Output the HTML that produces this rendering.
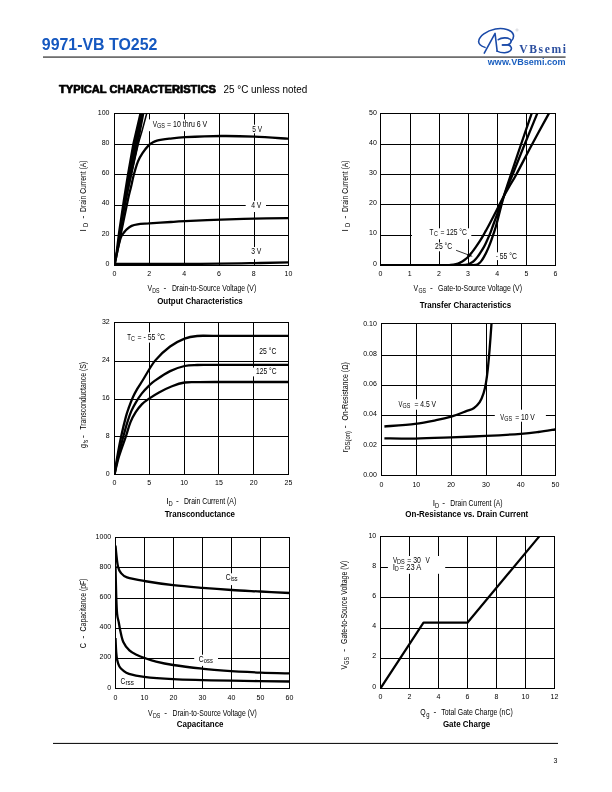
<!DOCTYPE html>
<html><head><meta charset="utf-8"><title>9971-VB TO252</title>
<style>html,body{margin:0;padding:0;background:#fff}svg{display:block;font-family:"Liberation Sans",sans-serif;will-change:transform}text{white-space:pre}</style></head><body>
<svg width="612" height="792" viewBox="0 0 612 792">
<rect width="612" height="792" fill="#fff"/>
<text x="41.8" y="50" font-size="16" font-weight="bold" textLength="115.6" lengthAdjust="spacingAndGlyphs" fill="#1558c0">9971-VB TO252</text>
<rect x="43" y="56.3" width="522.6" height="1.6" fill="#606060"/>
<g transform="translate(476 24) scale(0.07194)" fill="none" stroke="#1a4aa8" stroke-width="22" stroke-linecap="round" stroke-linejoin="round">
<path d="M125 325 C70 305 30 275 38 235 C48 170 140 95 270 70 C380 50 500 80 520 150 C528 195 505 225 488 240"/>
<path d="M310 218 C350 190 440 180 482 218 C502 245 475 280 440 289 L368 291"/>
<path d="M368 291 L445 290 C490 300 505 340 480 370 C450 405 360 410 292 377"/>
<path d="M115 405 L265 130 L294 378"/>
</g>
<circle cx="517" cy="30" r="1.1" fill="none" stroke="#b4b8c0" stroke-width="0.5"/>

<text x="519.3" y="52.9" font-size="11.6" font-weight="bold" textLength="46.6" lengthAdjust="spacing" fill="#2c4f9f" font-family='"Liberation Serif", serif'>VBsemi</text>
<text x="487.8" y="64.8" font-size="9" font-weight="bold" textLength="77.8" lengthAdjust="spacingAndGlyphs" fill="#1a5fc0">www.VBsemi.com</text>
<text x="59" y="93.2" font-size="10.4" font-weight="bold" textLength="157" lengthAdjust="spacingAndGlyphs" stroke="#000" stroke-width="0.7" stroke-linejoin="round">TYPICAL CHARACTERISTICS</text>
<text x="223.4" y="93.4" font-size="10" textLength="84" lengthAdjust="spacingAndGlyphs">25 °C unless noted</text>
<g id="c1">
<clipPath id="clipc1"><rect x="114" y="113" width="175" height="153"/></clipPath>
<path d="M149.5 113.5 V265.5M184.5 113.5 V265.5M219.5 113.5 V265.5M254.5 113.5 V265.5M114.5 144.5 H288.5M114.5 174.5 H288.5M114.5 205.5 H288.5M114.5 235.5 H288.5" stroke="#000" stroke-width="1" fill="none"/>
<rect x="148" y="119.4" width="61" height="11.8" fill="#fff"/>
<rect x="250" y="124.7" width="14" height="8.6" fill="#fff"/>
<rect x="245.7" y="200.8" width="20.3" height="11.2" fill="#fff"/>
<rect x="250" y="247" width="14" height="12.2" fill="#fff"/>
<rect x="114.5" y="113.5" width="174" height="152" fill="none" stroke="#000" stroke-width="1"/>
<g clip-path="url(#clipc1)" fill="none" stroke="#000" stroke-linejoin="round">
<path d="M114.5 265.3 C115.62 259.75 118.97 242.92 121.2 232 C123.43 221.08 126.27 207.3 127.9 199.8 C129.53 192.3 130.02 191.17 131 187 C131.98 182.83 132.65 179.03 133.8 174.8 C134.95 170.57 136.45 165.2 137.9 161.6 C139.35 158 140.72 155.9 142.5 153.2 C144.28 150.5 146.85 147.22 148.6 145.4 C150.35 143.58 151.6 143.1 153 142.3 C154.4 141.5 155.5 141.05 157 140.6 C158.5 140.15 159.95 139.92 162 139.6 C164.05 139.28 165.43 139.1 169.3 138.7 C173.17 138.3 176.55 137.65 185.2 137.2 C193.85 136.75 209.68 136.1 221.2 136 C232.72 135.9 243.27 136.15 254.3 136.6 C265.33 137.05 281.45 138.32 287.4 138.7 C293.35 139.08 289.57 138.87 290 138.9" stroke-width="2.3"/>
<path d="M114.5 265.3 C115.02 262.75 116.65 254.3 117.6 250 C118.55 245.7 119.55 241.83 120.2 239.5 C120.85 237.17 120.9 237.13 121.5 236 C122.1 234.87 122.93 233.82 123.8 232.7 C124.67 231.58 125.4 230.43 126.7 229.3 C128 228.17 129.8 226.73 131.6 225.9 C133.4 225.07 134.55 224.72 137.5 224.3 C140.45 223.88 143.75 223.78 149.3 223.4 C154.85 223.02 164.82 222.37 170.8 222 C176.78 221.63 176.8 221.6 185.2 221.2 C193.6 220.8 209.68 220.03 221.2 219.6 C232.72 219.17 243.27 218.83 254.3 218.6 C265.33 218.37 281.45 218.27 287.4 218.2 C293.35 218.13 289.57 218.2 290 218.2" stroke-width="2.3"/>
<path d="M114.5 263.9 C128.75 263.88 177.42 263.92 200 263.8 C222.58 263.68 235 263.43 250 263.2 C265 262.97 283.33 262.53 290 262.4" stroke-width="2.3"/>
<path d="M114.5 265.3 C115.42 259.75 118.08 242.92 120 232 C121.92 221.08 124.1 209.33 126 199.8 C127.9 190.27 129.35 184.08 131.4 174.8 C133.45 165.52 136.55 151.32 138.3 144.1 C140.05 136.88 140.5 136.6 141.9 131.5 C143.3 126.4 145.7 117.25 146.7 113.5 C147.7 109.75 147.7 109.75 147.9 109" stroke-width="1.5"/>
</g>
<path clip-path="url(#clipc1)" d="M113.9 265.3 L118.0 232 L122.8 199.8 L126.8 174.8 L132.2 144.1 L139.3 113.5 L140.4 109 L145.3 109 L144.4 113.5 L138.6 144.1 L132.0 174.8 L126.9 199.8 L120.6 232 L115.3 265.3 Z" fill="#000"/>
<text x="114.5" y="276" font-size="7" text-anchor="middle">0</text>
<text x="149.3" y="276" font-size="7" text-anchor="middle">2</text>
<text x="184.1" y="276" font-size="7" text-anchor="middle">4</text>
<text x="218.9" y="276" font-size="7" text-anchor="middle">6</text>
<text x="253.7" y="276" font-size="7" text-anchor="middle">8</text>
<text x="288.5" y="276" font-size="7" text-anchor="middle">10</text>
<text x="109.5" y="115" font-size="7" text-anchor="end">100</text>
<text x="109.5" y="145.14" font-size="7" text-anchor="end">80</text>
<text x="109.5" y="175.28" font-size="7" text-anchor="end">60</text>
<text x="109.5" y="205.42" font-size="7" text-anchor="end">40</text>
<text x="109.5" y="235.56" font-size="7" text-anchor="end">20</text>
<text x="109.5" y="265.7" font-size="7" text-anchor="end">0</text>
<text x="152.7" y="126.7" font-size="8.4" textLength="4.3" lengthAdjust="spacingAndGlyphs">V</text>
<text x="157" y="127.6" font-size="6.6" textLength="7.9" lengthAdjust="spacingAndGlyphs">GS</text>
<text x="167.1" y="126.7" font-size="8.4" textLength="40.2" lengthAdjust="spacingAndGlyphs">= 10 thru 6 V</text>
<text x="252.3" y="131.6" font-size="8.4" textLength="9.8" lengthAdjust="spacingAndGlyphs">5 V</text>
<text x="251.2" y="208.1" font-size="8.4" textLength="10.2" lengthAdjust="spacingAndGlyphs">4 V</text>
<text x="251.2" y="254" font-size="8.4" textLength="10.2" lengthAdjust="spacingAndGlyphs">3 V</text>
<text x="147.4" y="290.8" font-size="8.4" textLength="4.6" lengthAdjust="spacingAndGlyphs">V</text>
<text x="152.3" y="292.9" font-size="6.3" textLength="7.3" lengthAdjust="spacingAndGlyphs">DS</text>
<text x="163.6" y="290.8" font-size="8.4">-</text>
<text x="171.9" y="290.8" font-size="8.4" textLength="84.3" lengthAdjust="spacingAndGlyphs">Drain-to-Source Voltage (V)</text>
<g transform="translate(86.2 231.6) rotate(-90)">
<text x="0" y="0" font-size="8.4">I</text>
<text x="4.7" y="2.1" font-size="6.3" textLength="4.2" lengthAdjust="spacingAndGlyphs">D</text>
<text x="13.2" y="0" font-size="8.4">-</text>
<text x="19.7" y="0" font-size="8.4" textLength="51.5" lengthAdjust="spacingAndGlyphs">Drain Current (A)</text>
</g>
<text x="157.2" y="304.2" font-size="8.6" font-weight="bold" textLength="85.6" lengthAdjust="spacingAndGlyphs">Output Characteristics</text>
</g>
<g id="c2">
<clipPath id="clipc2"><rect x="380" y="113" width="176" height="153"/></clipPath>
<path d="M410.5 113.5 V265.5M439.5 113.5 V265.5M468.5 113.5 V265.5M497.5 113.5 V265.5M526.5 113.5 V265.5M380.5 144.5 H555.5M380.5 174.5 H555.5M380.5 204.5 H555.5M380.5 235.5 H555.5" stroke="#000" stroke-width="1" fill="none"/>
<rect x="412" y="228.3" width="59.3" height="11" fill="#fff"/>
<rect x="430" y="242.5" width="25" height="8.8" fill="#fff"/>
<rect x="494.3" y="252.3" width="23.7" height="7.8" fill="#fff"/>
<rect x="380.5" y="113.5" width="175" height="152" fill="none" stroke="#000" stroke-width="1"/>
<g clip-path="url(#clipc2)" fill="none" stroke="#000" stroke-linejoin="round">
<path d="M380.5 265.2 C390.42 265.2 428.32 265.25 440 265.2 C451.68 265.15 447.95 265.07 450.6 264.9 C453.25 264.73 454.3 264.58 455.9 264.2 C457.5 263.82 458.78 263.3 460.2 262.6 C461.62 261.9 463.02 261.02 464.4 260 C465.78 258.98 467.25 257.77 468.5 256.5 C469.75 255.23 470.63 254.05 471.9 252.4 C473.17 250.75 474.78 248.47 476.1 246.6 C477.42 244.73 478.65 242.98 479.8 241.2 C480.95 239.42 481.98 237.67 483 235.9 C484.02 234.13 484.9 232.42 485.9 230.6 C486.9 228.78 487.32 228.18 489 225 C490.68 221.82 493.72 215.95 496 211.5 C498.28 207.05 500.48 202.48 502.7 198.3 C504.92 194.12 507.03 190.37 509.3 186.4 C511.57 182.43 512.52 181.48 516.3 174.5 C520.08 167.52 526.58 154.65 532 144.5 C537.42 134.35 545.6 119.48 548.8 113.6 C552 107.72 550.8 109.93 551.2 109.2" stroke-width="2.3"/>
<path d="M456 265.2 C457.77 265.1 464.13 264.97 466.6 264.6 C469.07 264.23 469.57 263.62 470.8 263 C472.03 262.38 472.85 261.97 474 260.9 C475.15 259.83 476.55 258.1 477.7 256.6 C478.85 255.1 479.83 253.57 480.9 251.9 C481.97 250.23 483.13 248.38 484.1 246.6 C485.07 244.82 485.87 242.98 486.7 241.2 C487.53 239.42 488.35 237.67 489.1 235.9 C489.85 234.13 490.52 232.42 491.2 230.6 C491.88 228.78 492.03 228.18 493.2 225 C494.37 221.82 496.57 215.95 498.2 211.5 C499.83 207.05 501.43 202.48 503 198.3 C504.57 194.12 506 190.37 507.6 186.4 C509.2 182.43 509.77 181.48 512.6 174.5 C515.43 167.52 520.5 154.65 524.6 144.5 C528.7 134.35 534.8 119.48 537.2 113.6 C539.6 107.72 538.7 109.93 539 109.2" stroke-width="2.3"/>
<path d="M466 265.2 C467.6 265.13 473.47 265.08 475.6 264.8 C477.73 264.52 477.83 264.15 478.8 263.5 C479.77 262.85 480.52 262.05 481.4 260.9 C482.28 259.75 483.25 258.1 484.1 256.6 C484.95 255.1 485.7 253.57 486.5 251.9 C487.3 250.23 488.15 248.38 488.9 246.6 C489.65 244.82 490.35 242.98 491 241.2 C491.65 239.42 492.2 237.67 492.8 235.9 C493.4 234.13 494.02 232.42 494.6 230.6 C495.18 228.78 495.43 228.18 496.3 225 C497.17 221.82 498.63 215.95 499.8 211.5 C500.97 207.05 502.1 202.48 503.3 198.3 C504.5 194.12 505.73 190.37 507 186.4 C508.27 182.43 508.57 181.48 510.9 174.5 C513.23 167.52 517.55 154.65 521 144.5 C524.45 134.35 529.58 119.48 531.6 113.6 C533.62 107.72 532.85 109.93 533.1 109.2" stroke-width="2.3"/>
</g>
<path d="M456.1 250.3 L470 255.5" stroke="#000" stroke-width="0.8" fill="none"/>
<path d="M472.6 256.5 L467.0 256.2 L468.2 253.0 Z" fill="#000"/>
<text x="380.5" y="276" font-size="7" text-anchor="middle">0</text>
<text x="409.67" y="276" font-size="7" text-anchor="middle">1</text>
<text x="438.83" y="276" font-size="7" text-anchor="middle">2</text>
<text x="468" y="276" font-size="7" text-anchor="middle">3</text>
<text x="497.17" y="276" font-size="7" text-anchor="middle">4</text>
<text x="526.33" y="276" font-size="7" text-anchor="middle">5</text>
<text x="555.5" y="276" font-size="7" text-anchor="middle">6</text>
<text x="376.8" y="115.1" font-size="7" text-anchor="end">50</text>
<text x="376.8" y="145.18" font-size="7" text-anchor="end">40</text>
<text x="376.8" y="175.26" font-size="7" text-anchor="end">30</text>
<text x="376.8" y="205.34" font-size="7" text-anchor="end">20</text>
<text x="376.8" y="235.42" font-size="7" text-anchor="end">10</text>
<text x="376.8" y="265.5" font-size="7" text-anchor="end">0</text>
<text x="429.6" y="234.6" font-size="8.4" textLength="3.9" lengthAdjust="spacingAndGlyphs">T</text>
<text x="433.9" y="235.5" font-size="6.6" textLength="3.9" lengthAdjust="spacingAndGlyphs">C</text>
<text x="440.4" y="234.6" font-size="8.4" textLength="26.5" lengthAdjust="spacingAndGlyphs">= 125 °C</text>
<text x="435.1" y="248.7" font-size="8.4" textLength="17.1" lengthAdjust="spacingAndGlyphs">25 °C</text>
<text x="495.7" y="258.9" font-size="8.4" textLength="21.2" lengthAdjust="spacingAndGlyphs">- 55 °C</text>
<text x="413.5" y="291.1" font-size="8.4" textLength="4.6" lengthAdjust="spacingAndGlyphs">V</text>
<text x="418.4" y="293.2" font-size="6.3" textLength="7.6" lengthAdjust="spacingAndGlyphs">GS</text>
<text x="430.1" y="291.1" font-size="8.4">-</text>
<text x="438" y="291.1" font-size="8.4" textLength="84" lengthAdjust="spacingAndGlyphs">Gate-to-Source Voltage (V)</text>
<g transform="translate(348.2 231.6) rotate(-90)">
<text x="0" y="0" font-size="8.4">I</text>
<text x="4.7" y="2.1" font-size="6.3" textLength="4.2" lengthAdjust="spacingAndGlyphs">D</text>
<text x="13.2" y="0" font-size="8.4">-</text>
<text x="19.7" y="0" font-size="8.4" textLength="51.5" lengthAdjust="spacingAndGlyphs">Drain Current (A)</text>
</g>
<text x="419.7" y="308.1" font-size="8.6" font-weight="bold" textLength="91.5" lengthAdjust="spacingAndGlyphs">Transfer Characteristics</text>
</g>
<g id="c3">
<clipPath id="clipc3"><rect x="114" y="322" width="175" height="153"/></clipPath>
<path d="M149.5 322.5 V474.5M184.5 322.5 V474.5M218.5 322.5 V474.5M253.5 322.5 V474.5M114.5 361.5 H288.5M114.5 399.5 H288.5M114.5 436.5 H288.5" stroke="#000" stroke-width="1" fill="none"/>
<rect x="147" y="332.3" width="5" height="10.3" fill="#fff"/>
<rect x="251" y="367.6" width="6" height="8.8" fill="#fff"/>
<rect x="114.5" y="322.5" width="174" height="152" fill="none" stroke="#000" stroke-width="1"/>
<g clip-path="url(#clipc3)" fill="none" stroke="#000" stroke-linejoin="round">
<path d="M114.5 474.5 C114.97 471.53 116.18 463.07 117.3 456.7 C118.42 450.33 119.78 442.9 121.2 436.3 C122.62 429.7 124.5 421.95 125.8 417.1 C127.1 412.25 127.82 410.5 129 407.2 C130.18 403.9 131.5 400.38 132.9 397.3 C134.3 394.22 135.73 391.58 137.4 388.7 C139.07 385.82 139.95 384.68 142.9 380 C145.85 375.32 150.57 366.18 155.1 360.6 C159.63 355.02 165.18 350.17 170.1 346.5 C175.02 342.83 180.08 340.35 184.6 338.6 C189.12 336.85 192.13 336.47 197.2 336 C202.27 335.53 199.53 335.83 215 335.8 C230.47 335.77 277.5 335.8 290 335.8" stroke-width="2.3"/>
<path d="M114.5 474.5 C115.08 471.53 116.52 463.07 118 456.7 C119.48 450.33 121.83 442.07 123.4 436.3 C124.97 430.53 126.07 426.33 127.4 422.1 C128.73 417.87 129.98 414.2 131.4 410.9 C132.82 407.6 134.18 405.18 135.9 402.3 C137.62 399.42 139.5 396.38 141.7 393.6 C143.9 390.82 146.83 387.8 149.1 385.6 C151.37 383.4 151.8 382.82 155.3 380.4 C158.8 377.98 165.22 373.5 170.1 371.1 C174.98 368.7 180.08 367.02 184.6 366 C189.12 364.98 192.13 365.18 197.2 365 C202.27 364.82 199.53 364.92 215 364.9 C230.47 364.88 277.5 364.9 290 364.9" stroke-width="2.3"/>
<path d="M114.5 474.5 C115.23 471.53 117 463.07 118.9 456.7 C120.8 450.33 123.97 442.07 125.9 436.3 C127.83 430.53 128.87 426.12 130.5 422.1 C132.13 418.08 133.78 415.2 135.7 412.2 C137.62 409.2 139.77 406.37 142 404.1 C144.23 401.83 146.27 400.55 149.1 398.6 C151.93 396.65 155.18 394.47 159 392.4 C162.82 390.33 167.73 387.85 172 386.2 C176.27 384.55 180.4 383.18 184.6 382.5 C188.8 381.82 192.13 382.18 197.2 382.1 C202.27 382.02 199.53 382.02 215 382 C230.47 381.98 277.5 382 290 382" stroke-width="2.3"/>
</g>
<text x="114.5" y="485" font-size="7" text-anchor="middle">0</text>
<text x="149.3" y="485" font-size="7" text-anchor="middle">5</text>
<text x="184.1" y="485" font-size="7" text-anchor="middle">10</text>
<text x="218.9" y="485" font-size="7" text-anchor="middle">15</text>
<text x="253.7" y="485" font-size="7" text-anchor="middle">20</text>
<text x="288.5" y="485" font-size="7" text-anchor="middle">25</text>
<text x="109.7" y="324" font-size="7" text-anchor="end">32</text>
<text x="109.7" y="361.88" font-size="7" text-anchor="end">24</text>
<text x="109.7" y="399.75" font-size="7" text-anchor="end">16</text>
<text x="109.7" y="437.62" font-size="7" text-anchor="end">8</text>
<text x="109.7" y="475.5" font-size="7" text-anchor="end">0</text>
<text x="127.2" y="339.6" font-size="8.4" textLength="3.6" lengthAdjust="spacingAndGlyphs">T</text>
<text x="131.1" y="340.5" font-size="6.6" textLength="3.9" lengthAdjust="spacingAndGlyphs">C</text>
<text x="137.5" y="339.6" font-size="8.4" textLength="27.4" lengthAdjust="spacingAndGlyphs">= - 55 °C</text>
<text x="259.3" y="353.8" font-size="8.4" textLength="17.1" lengthAdjust="spacingAndGlyphs">25 °C</text>
<text x="256.1" y="374" font-size="8.4" textLength="20.5" lengthAdjust="spacingAndGlyphs">125 °C</text>
<text x="166.3" y="504.1" font-size="8.4">I</text>
<text x="168.6" y="506.2" font-size="6.3" textLength="4.2" lengthAdjust="spacingAndGlyphs">D</text>
<text x="175.9" y="504.1" font-size="8.4">-</text>
<text x="183.9" y="504.1" font-size="8.4" textLength="52.3" lengthAdjust="spacingAndGlyphs">Drain Current (A)</text>
<g transform="translate(85.6 448) rotate(-90)">
<text x="0" y="0" font-size="8.4" textLength="3.9" lengthAdjust="spacingAndGlyphs">g</text>
<text x="4.7" y="2.1" font-size="6.3" textLength="3.5" lengthAdjust="spacingAndGlyphs">fs</text>
<text x="10" y="0" font-size="8.4">-</text>
<text x="18.2" y="0" font-size="8.4" textLength="68" lengthAdjust="spacingAndGlyphs">Transconductance (S)</text>
</g>
<text x="164.7" y="516.8" font-size="8.6" font-weight="bold" textLength="70.3" lengthAdjust="spacingAndGlyphs">Transconductance</text>
</g>
<g id="c4">
<clipPath id="clipc4"><rect x="381" y="323" width="175" height="153"/></clipPath>
<path d="M416.5 323.5 V475.5M451.5 323.5 V475.5M486.5 323.5 V475.5M521.5 323.5 V475.5M381.5 355.5 H555.5M381.5 385.5 H555.5M381.5 415.5 H555.5M381.5 445.5 H555.5" stroke="#000" stroke-width="1" fill="none"/>
<rect x="412" y="399.2" width="8" height="10.5" fill="#fff"/>
<rect x="494.8" y="409.7" width="51.1" height="12" fill="#fff"/>
<rect x="381.5" y="323.5" width="174" height="152" fill="none" stroke="#000" stroke-width="1"/>
<g clip-path="url(#clipc4)" fill="none" stroke="#000" stroke-linejoin="round">
<path d="M384.4 426.5 C389.52 426.05 406.48 424.85 415.1 423.8 C423.72 422.75 430.08 421.4 436.1 420.2 C442.12 419 446.18 418.1 451.2 416.6 C456.22 415.1 462.45 412.6 466.2 411.2 C469.95 409.8 471.45 409.7 473.7 408.2 C475.95 406.7 478.05 404.7 479.7 402.2 C481.35 399.7 482.55 396.47 483.6 393.2 C484.65 389.93 485.3 386.62 486 382.6 C486.7 378.58 487.18 374.85 487.8 369.1 C488.42 363.35 489.08 355.72 489.7 348.1 C490.32 340.48 491.13 328.42 491.5 323.4 C491.87 318.38 491.83 318.9 491.9 318" stroke-width="2.3"/>
<path d="M384.4 438.3 C389.52 438.35 403.97 438.75 415.1 438.6 C426.23 438.45 439.38 437.85 451.2 437.4 C463.02 436.95 474.38 436.5 486 435.9 C497.62 435.3 512.17 434.45 520.9 433.8 C529.63 433.15 532.73 432.72 538.4 432 C544.07 431.28 551.8 429.98 554.9 429.5 C558 429.02 556.65 429.17 557 429.1" stroke-width="2.3"/>
</g>
<text x="381.5" y="487" font-size="7" text-anchor="middle">0</text>
<text x="416.3" y="487" font-size="7" text-anchor="middle">10</text>
<text x="451.1" y="487" font-size="7" text-anchor="middle">20</text>
<text x="485.9" y="487" font-size="7" text-anchor="middle">30</text>
<text x="520.7" y="487" font-size="7" text-anchor="middle">40</text>
<text x="555.5" y="487" font-size="7" text-anchor="middle">50</text>
<text x="376.8" y="325.7" font-size="7" text-anchor="end">0.10</text>
<text x="376.8" y="355.96" font-size="7" text-anchor="end">0.08</text>
<text x="376.8" y="386.22" font-size="7" text-anchor="end">0.06</text>
<text x="376.8" y="416.48" font-size="7" text-anchor="end">0.04</text>
<text x="376.8" y="446.74" font-size="7" text-anchor="end">0.02</text>
<text x="376.8" y="477" font-size="7" text-anchor="end">0.00</text>
<text x="398.5" y="407.3" font-size="8.4" textLength="3.9" lengthAdjust="spacingAndGlyphs">V</text>
<text x="402.5" y="408.2" font-size="6.6" textLength="7.8" lengthAdjust="spacingAndGlyphs">GS</text>
<text x="414.4" y="407.3" font-size="8.4" textLength="21.7" lengthAdjust="spacingAndGlyphs">= 4.5 V</text>
<text x="500.2" y="420.2" font-size="8.4" textLength="3.9" lengthAdjust="spacingAndGlyphs">V</text>
<text x="504.2" y="421.1" font-size="6.6" textLength="7.8" lengthAdjust="spacingAndGlyphs">GS</text>
<text x="515.2" y="420.2" font-size="8.4" textLength="19.6" lengthAdjust="spacingAndGlyphs">= 10 V</text>
<text x="432.7" y="506" font-size="8.4">I</text>
<text x="435" y="508.1" font-size="6.3" textLength="4.2" lengthAdjust="spacingAndGlyphs">D</text>
<text x="442.3" y="506" font-size="8.4">-</text>
<text x="450.3" y="506" font-size="8.4" textLength="52.3" lengthAdjust="spacingAndGlyphs">Drain Current (A)</text>
<g transform="translate(348 452.3) rotate(-90)">
<text x="0" y="0" font-size="8.4">r</text>
<text x="2.6" y="2.1" font-size="6.3" textLength="18.8" lengthAdjust="spacingAndGlyphs">DS(on)</text>
<text x="24" y="0" font-size="8.4">-</text>
<text x="31.7" y="0" font-size="8.4" textLength="58.4" lengthAdjust="spacingAndGlyphs">On-Resistance (Ω)</text>
</g>
<text x="405.3" y="516.8" font-size="8.6" font-weight="bold" textLength="122.9" lengthAdjust="spacingAndGlyphs">On-Resistance vs. Drain Current</text>
</g>
<g id="c5">
<clipPath id="clipc5"><rect x="115" y="537" width="175" height="152"/></clipPath>
<path d="M144.5 537.5 V688.5M173.5 537.5 V688.5M202.5 537.5 V688.5M231.5 537.5 V688.5M260.5 537.5 V688.5M115.5 567.5 H289.5M115.5 598.5 H289.5M115.5 628.5 H289.5M115.5 658.5 H289.5" stroke="#000" stroke-width="1" fill="none"/>
<rect x="228" y="573.3" width="8" height="11.8" fill="#fff"/>
<rect x="194.2" y="654.7" width="23.8" height="11.2" fill="#fff"/>
<rect x="115.5" y="537.5" width="174" height="151" fill="none" stroke="#000" stroke-width="1"/>
<g clip-path="url(#clipc5)" fill="none" stroke="#000" stroke-linejoin="round">
<path d="M115.5 545.5 C115.67 547.25 116.08 552.48 116.5 556 C116.92 559.52 117.28 563.8 118 566.6 C118.72 569.4 119.3 571 120.8 572.8 C122.3 574.6 123.12 576.03 127 577.4 C130.88 578.77 136.4 579.7 144.1 581 C151.8 582.3 163.48 584.05 173.2 585.2 C182.92 586.35 192.67 587.1 202.4 587.9 C212.13 588.7 221.93 589.4 231.6 590 C241.27 590.6 250.73 591 260.4 591.5 C270.07 592 284.5 592.73 289.6 593 C294.7 593.27 290.77 593.08 291 593.1" stroke-width="2.3"/>
<path d="M115.5 566 C115.62 570.83 115.93 587.03 116.2 595 C116.47 602.97 116.67 609.22 117.1 613.8 C117.53 618.38 118.28 619.77 118.8 622.5 C119.32 625.23 119.45 626.95 120.2 630.2 C120.95 633.45 121.77 638.63 123.3 642 C124.83 645.37 127.02 648.18 129.4 650.4 C131.78 652.62 135.15 654.07 137.6 655.3 C140.05 656.53 141.02 656.75 144.1 657.8 C147.18 658.85 151.25 660.4 156.1 661.6 C160.95 662.8 165.48 663.82 173.2 665 C180.92 666.18 193.95 667.75 202.4 668.7 C210.85 669.65 214.23 670.05 223.9 670.7 C233.57 671.35 249.45 672.15 260.4 672.6 C271.35 673.05 284.5 673.27 289.6 673.4 C294.7 673.53 290.77 673.4 291 673.4" stroke-width="2.3"/>
<path d="M115.5 638 C115.62 640.33 115.92 648.33 116.2 652 C116.48 655.67 116.67 657.58 117.2 660 C117.73 662.42 118.43 664.77 119.4 666.5 C120.37 668.23 121.4 669.17 123 670.4 C124.6 671.63 125.48 672.82 129 673.9 C132.52 674.98 136.73 676.02 144.1 676.9 C151.47 677.78 163.48 678.67 173.2 679.2 C182.92 679.73 192.67 679.85 202.4 680.1 C212.13 680.35 217.07 680.47 231.6 680.7 C246.13 680.93 279.7 681.37 289.6 681.5 C299.5 681.63 290.77 681.5 291 681.5" stroke-width="2.3"/>
</g>
<text x="115.5" y="700" font-size="7" text-anchor="middle">0</text>
<text x="144.5" y="700" font-size="7" text-anchor="middle">10</text>
<text x="173.5" y="700" font-size="7" text-anchor="middle">20</text>
<text x="202.5" y="700" font-size="7" text-anchor="middle">30</text>
<text x="231.5" y="700" font-size="7" text-anchor="middle">40</text>
<text x="260.5" y="700" font-size="7" text-anchor="middle">50</text>
<text x="289.5" y="700" font-size="7" text-anchor="middle">60</text>
<text x="111.2" y="538.7" font-size="7" text-anchor="end">1000</text>
<text x="111.2" y="568.88" font-size="7" text-anchor="end">800</text>
<text x="111.2" y="599.06" font-size="7" text-anchor="end">600</text>
<text x="111.2" y="629.24" font-size="7" text-anchor="end">400</text>
<text x="111.2" y="659.42" font-size="7" text-anchor="end">200</text>
<text x="111.2" y="689.6" font-size="7" text-anchor="end">0</text>
<text x="225.7" y="580.4" font-size="8.4" textLength="4.9" lengthAdjust="spacingAndGlyphs">C</text>
<text x="230.8" y="581.3" font-size="6.6" textLength="6.8" lengthAdjust="spacingAndGlyphs">iss</text>
<text x="198.8" y="662" font-size="8.4" textLength="4.9" lengthAdjust="spacingAndGlyphs">C</text>
<text x="203.8" y="662.9" font-size="6.6" textLength="9" lengthAdjust="spacingAndGlyphs">oss</text>
<text x="120.4" y="684.1" font-size="8.4" textLength="4.9" lengthAdjust="spacingAndGlyphs">C</text>
<text x="125.4" y="685" font-size="6.6" textLength="8.4" lengthAdjust="spacingAndGlyphs">rss</text>
<text x="148" y="716.1" font-size="8.4" textLength="4.6" lengthAdjust="spacingAndGlyphs">V</text>
<text x="152.9" y="718.2" font-size="6.3" textLength="7.3" lengthAdjust="spacingAndGlyphs">DS</text>
<text x="164.2" y="716.1" font-size="8.4">-</text>
<text x="172.5" y="716.1" font-size="8.4" textLength="84.3" lengthAdjust="spacingAndGlyphs">Drain-to-Source Voltage (V)</text>
<g transform="translate(85.8 648.2) rotate(-90)">
<text x="0" y="0" font-size="8.4" textLength="5.2" lengthAdjust="spacingAndGlyphs">C</text>
<text x="9.8" y="0" font-size="8.4">-</text>
<text x="16.8" y="0" font-size="8.4" textLength="53" lengthAdjust="spacingAndGlyphs">Capacitance (pF)</text>
</g>
<text x="176.8" y="726.6" font-size="8.6" font-weight="bold" textLength="46.7" lengthAdjust="spacingAndGlyphs">Capacitance</text>
</g>
<g id="c6">
<clipPath id="clipc6"><rect x="380" y="536" width="175" height="153"/></clipPath>
<path d="M409.5 536.5 V688.5M438.5 536.5 V688.5M467.5 536.5 V688.5M496.5 536.5 V688.5M525.5 536.5 V688.5M380.5 567.5 H554.5M380.5 597.5 H554.5M380.5 628.5 H554.5M380.5 658.5 H554.5" stroke="#000" stroke-width="1" fill="none"/>
<rect x="387.9" y="556" width="57.3" height="17.8" fill="#fff"/>
<rect x="380.5" y="536.5" width="174" height="152" fill="none" stroke="#000" stroke-width="1"/>
<g clip-path="url(#clipc6)" fill="none" stroke="#000" stroke-linejoin="round">
<path d="M380.5 688.3 L423.5 622.7 L467.4 622.7 L539.3 536.4 L542 533.2" stroke-width="2.2"/>
</g>
<text x="380.5" y="699" font-size="7" text-anchor="middle">0</text>
<text x="409.5" y="699" font-size="7" text-anchor="middle">2</text>
<text x="438.5" y="699" font-size="7" text-anchor="middle">4</text>
<text x="467.5" y="699" font-size="7" text-anchor="middle">6</text>
<text x="496.5" y="699" font-size="7" text-anchor="middle">8</text>
<text x="525.5" y="699" font-size="7" text-anchor="middle">10</text>
<text x="554.5" y="699" font-size="7" text-anchor="middle">12</text>
<text x="376.2" y="537.7" font-size="7" text-anchor="end">10</text>
<text x="376.2" y="567.86" font-size="7" text-anchor="end">8</text>
<text x="376.2" y="598.02" font-size="7" text-anchor="end">6</text>
<text x="376.2" y="628.18" font-size="7" text-anchor="end">4</text>
<text x="376.2" y="658.34" font-size="7" text-anchor="end">2</text>
<text x="376.2" y="688.5" font-size="7" text-anchor="end">0</text>
<text x="392.9" y="562.8" font-size="8.4" textLength="4.2" lengthAdjust="spacingAndGlyphs">V</text>
<text x="397.1" y="563.7" font-size="6.6" textLength="7.7" lengthAdjust="spacingAndGlyphs">DS</text>
<text x="407.3" y="562.8" font-size="8.4" textLength="13.6" lengthAdjust="spacingAndGlyphs">= 30</text>
<text x="425.4" y="562.8" font-size="8.4" textLength="4.3" lengthAdjust="spacingAndGlyphs">V</text>
<text x="392.8" y="570.2" font-size="8.4">I</text>
<text x="395" y="571.1" font-size="6.6" textLength="3.7" lengthAdjust="spacingAndGlyphs">D</text>
<text x="399.7" y="570.2" font-size="8.4" textLength="21.7" lengthAdjust="spacingAndGlyphs">= 23 A</text>
<text x="420.3" y="715.1" font-size="8.4" textLength="5.4" lengthAdjust="spacingAndGlyphs">Q</text>
<text x="426.2" y="717.2" font-size="6.3" textLength="3.3" lengthAdjust="spacingAndGlyphs">g</text>
<text x="433.5" y="715.1" font-size="8.4">-</text>
<text x="441.2" y="715.1" font-size="8.4" textLength="71.6" lengthAdjust="spacingAndGlyphs">Total Gate Charge (nC)</text>
<g transform="translate(347.3 669.6) rotate(-90)">
<text x="0" y="0" font-size="8.4" textLength="4.6" lengthAdjust="spacingAndGlyphs">V</text>
<text x="4.9" y="2.1" font-size="6.3" textLength="7.8" lengthAdjust="spacingAndGlyphs">GS</text>
<text x="17.8" y="0" font-size="8.4">-</text>
<text x="25.7" y="0" font-size="8.4" textLength="83.3" lengthAdjust="spacingAndGlyphs">Gate-to-Source Voltage (V)</text>
</g>
<text x="442.9" y="726.6" font-size="8.6" font-weight="bold" textLength="47.4" lengthAdjust="spacingAndGlyphs">Gate Charge</text>
</g>
<rect x="53" y="742.9" width="505" height="1" fill="#000"/>
<text x="557.3" y="763" font-size="7" text-anchor="end">3</text>
</svg></body></html>
